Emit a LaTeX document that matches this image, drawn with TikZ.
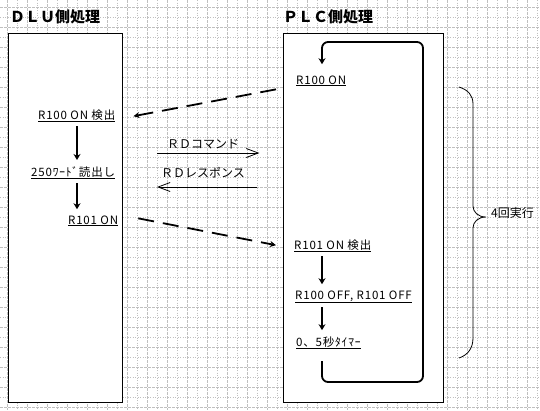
\documentclass[tikz,border=0pt]{standalone}
\usepackage{fontspec}
\newfontfamily\jpfont{Noto Sans CJK JP}
\newfontfamily\jpitemfont[LetterSpace=7]{Noto Sans CJK JP}
\usetikzlibrary{arrows.meta,calc}

\tikzset{
  griddash/.style={color=lightgray,line width=0.8pt,dash pattern=on 2.5pt off 1.5pt},
  griddot/.style={color=lightgray,line width=0.8pt,dash pattern=on 1pt off 1.5pt},
  panel/.style={draw,fill=white,line width=1pt},
  title/.style={anchor=base west,inner sep=0pt,font=\jpfont\bfseries\fontsize{15}{15}\selectfont},
  stepitem/.style={anchor=base west,inner sep=1pt,font=\jpitemfont\fontsize{11.5}{12}\selectfont},
  msgtext/.style={anchor=base west,inner sep=0pt,font=\jpfont\fontsize{12}{12}\selectfont},
  flow/.style={line width=1.8pt,-{Stealth[length=6pt,width=7pt]},shorten <=3pt,shorten >=5pt},
  signal/.style={line width=1.8pt,dash pattern=on 16pt off 9pt,-{Stealth[length=6pt,width=6pt]}},
  message/.style={line width=0.8pt,-{Straight Barb[length=12pt,width=9pt]}},
  loopback/.style={line width=1.8pt,rounded corners=6pt,-{Stealth[length=6pt,width=7pt]}},
}

\begin{document}
\begin{tikzpicture}[x=1pt,y=-1pt]
\useasboundingbox (0,0) rectangle (540,410);
\fill[white] (0,0) rectangle (540,410);

% background grid
\foreach \x [count=\i] in {7,17,...,537} {
  \ifodd\i \draw[griddash] (\x,0) -- (\x,410); \else \draw[griddot] (\x,0) -- (\x,410); \fi
}
\foreach \y [count=\i] in {7,17,...,407} {
  \ifodd\i \draw[griddash] (0,\y) -- (540,\y); \else \draw[griddot] (0,\y) -- (540,\y); \fi
}

% the two sides
\draw[panel] (8,33) rectangle (122,402);
\draw[panel] (283,33) rectangle (443,402);
\node[title] (dlu) at (10,22) {ＤＬＵ側処理};
\node[title] (plc) at (283,22) {ＰＬＣ側処理};

% DLU steps
\node[stepitem] (d1) at (37,119) {\underline{R100 ON 検出}};
\node[stepitem] (d2) at (30,176) {\underline{250ﾜｰﾄﾞ読出し}};
\node[stepitem] (d3) at (67,224) {\underline{R101 ON}};
\coordinate (lc) at (77,0);
\draw[flow] (d1.south -| lc) -- (d2.north -| lc);
\draw[flow] (d2.south -| lc) -- (d3.north -| lc);

% PLC steps
\node[stepitem] (p1) at (295,84) {\underline{R100 ON}};
\node[stepitem] (p2) at (293,249) {\underline{R101 ON 検出}};
\node[stepitem] (p3) at (294,299) {\underline{R100 OFF, R101 OFF}};
\node[stepitem] (p4) at (295,346) {\underline{0、5秒ﾀｲﾏｰ}};
\coordinate (rc) at (322,0);
\draw[flow] (p2.south -| rc) -- (p3.north -| rc);
\draw[flow] (p3.south -| rc) -- (p4.north -| rc);

% loop back to the top
\coordinate (lb) at (423,382);
\coordinate (lt) at (423,42);
\draw[loopback] ($(p4.south -| rc)+(0,11)$) |- (lb) -- (lt) -| ($(p1.north -| rc)+(0,-10)$);

% handshake between the sides
\draw[signal] ($(p1.south west)+(-19,2)$) -- ($(d1.south east)+(17,-7)$);
\draw[signal] ($(d3.south east)+(19,-9)$) -- ($(p2.south west)+(-17,-8)$);

\node[msgtext] (cmd) at (167,148) {ＲＤコマンド};
\node[msgtext] (rsp) at (161,177) {ＲＤレスポンス};
\draw[message] ($(cmd.base west)+(-10,5)$) -- ($(cmd.base east)+(20,5)$);
\draw[message] ($(rsp.base east)+(12,10)$) -- ($(rsp.base west)+(-4,10)$);

% repeat brace
\draw[line width=0.8pt] (459,87) .. controls (468,90) and (473,95) .. (473,104) -- (473,206)
  .. controls (473,212) and (478,217) .. (486,217)
  .. controls (478,217) and (473,222) .. (473,228) -- (473,338)
  .. controls (473,348) and (468,355) .. (459,358);
\node[msgtext,anchor=west] (cnt) at (491,213) {4回実行};

\end{tikzpicture}
\end{document}
